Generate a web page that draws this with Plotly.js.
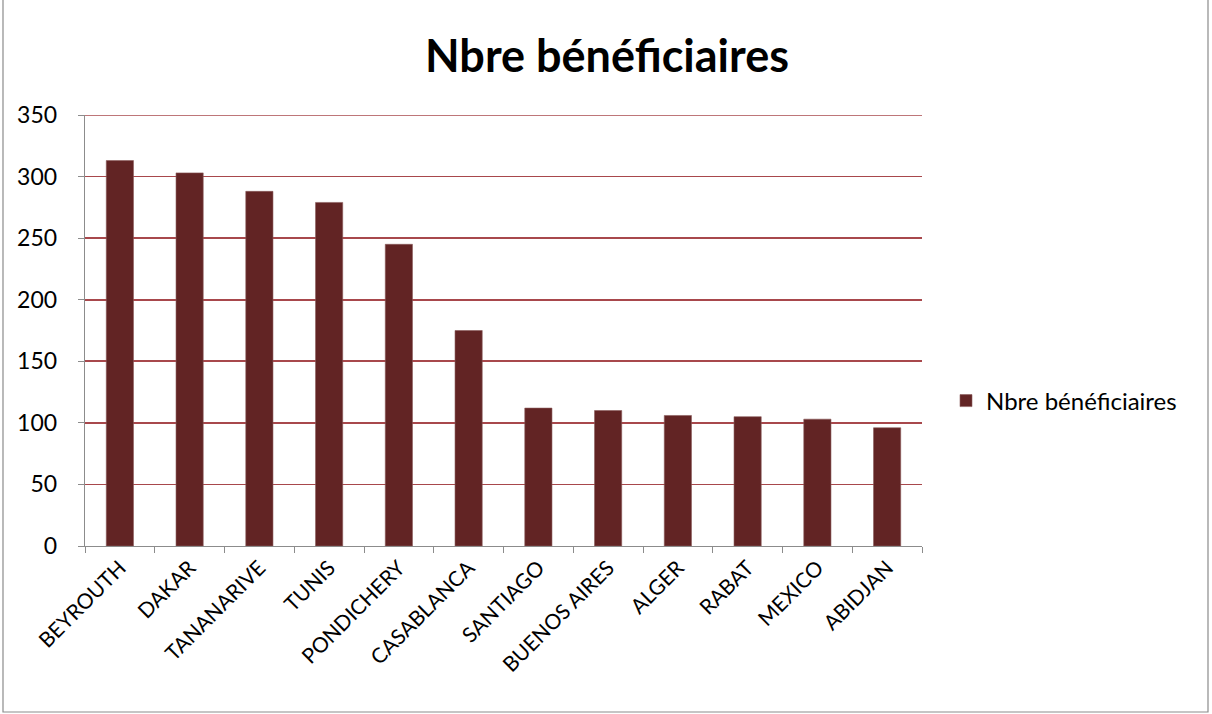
<!DOCTYPE html>
<html>
<head>
<meta charset="utf-8">
<script src="https://cdn.plot.ly/plotly-3.0.1.min.js"></script>
<style>html,body{margin:0;padding:0;background:#fff;}#chart{width:1212px;height:714px;}</style>
</head>
<body>
<div id="chart"></div>
<script>
const categories = ["BEYROUTH","DAKAR","TANANARIVE","TUNIS","PONDICHERY","CASABLANCA","SANTIAGO","BUENOS AIRES","ALGER","RABAT","MEXICO","ABIDJAN"];
const values = [313, 303, 288, 279, 245, 175, 112, 110, 106, 105, 103, 96];
const seriesName = "Nbre bénéficiaires";
const yTicks = [0, 50, 100, 150, 200, 250, 300, 350];

const W = 1212, H = 714, L = 85, R = 290, T = 115, B = 168;
const pw = W - L - R, ph = H - T - B;
const fx = px => (px - L) / pw;
const fy = py => (H - B - py) / ph;
const gridColor = "#a8484c";

const trace = {
  type: "bar",
  x: categories,
  y: values,
  name: seriesName,
  marker: {color: "#622424", line: {color: "#8a5a5a", width: 0.6}},
  showlegend: true,
  cliponaxis: false
};

const layout = {
  width: W, height: H,
  margin: {l: L, r: R, t: T, b: B},
  paper_bgcolor: "#fff", plot_bgcolor: "#fff",
  font: {family: "Lato, 'Open Sans', sans-serif", color: "#000"},
  title: {text: "<b>Nbre bénéficiaires</b>", font: {size: 45, family: "Lato, 'Open Sans', sans-serif", color: "#000"}, xref: "container", x: 607/W, xanchor: "center", yref: "container", y: 1 - 56/H, yanchor: "middle"},
  bargap: 0.61,
  showlegend: true,
  legend: {x: fx(946), y: fy(401), xanchor: "left", yanchor: "middle", font: {size: 24}, bgcolor: "rgba(0,0,0,0)", itemwidth: 30},
  xaxis: {
    type: "category",
    tickangle: -45,
    tickson: "boundaries",
    ticks: "outside", ticklen: 6, tickcolor: "#8c8c8c", tickwidth: 1,
    showline: true, linecolor: "#8c8c8c", linewidth: 1.3,
    showgrid: false,
    tickfont: {size: 21},
    fixedrange: true
  },
  yaxis: {
    range: [0, 350],
    tickvals: yTicks,
    ticktext: yTicks.map(String),
    ticks: "outside", ticklen: 6, tickcolor: "#8c8c8c",
    showline: true, linecolor: "#8c8c8c", linewidth: 1.3,
    showgrid: true, gridcolor: gridColor, gridwidth: 1.6,
    zeroline: false,
    tickfont: {size: 23},
    ticklabelstandoff: 16,
    fixedrange: true
  },
  shapes: [
    {type: "line", xref: "paper", yref: "y", x0: 0, x1: 1, y0: 350, y1: 350, line: {color: gridColor, width: 1.6}, layer: "above"},
    {type: "rect", xref: "paper", yref: "paper", x0: fx(3), x1: fx(1208), y0: fy(712), y1: fy(-5), line: {color: "#8c8c8c", width: 1.2}, fillcolor: "rgba(0,0,0,0)"}
  ]
};

Plotly.newPlot("chart", [trace], layout, {displayModeBar: false, staticPlot: true});
</script>
</body>
</html>
